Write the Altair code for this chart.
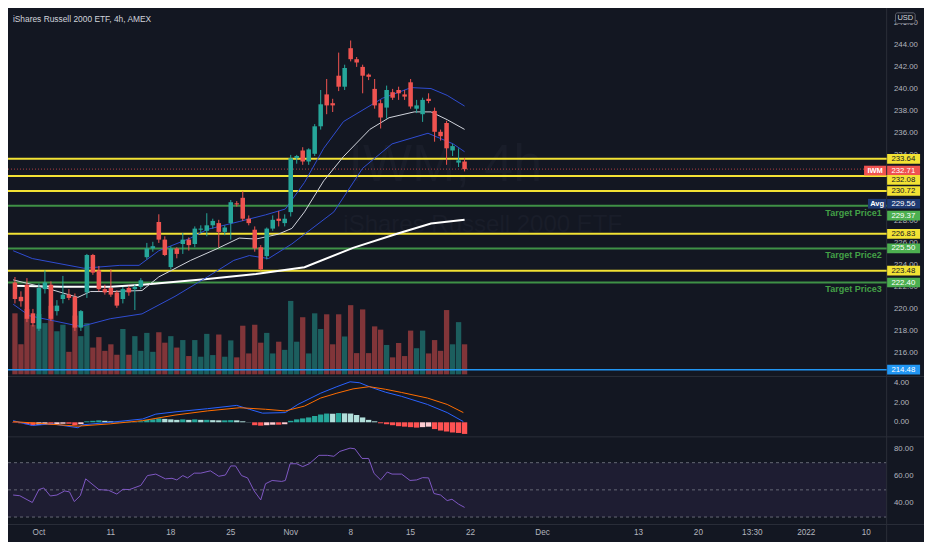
import altair as alt
import pandas as pd

# ---------------- data ----------------
title_text = "iShares Russell 2000 ETF, 4h, AMEX"
watermark_symbol = "IWM, 4h"
watermark_name = "iShares Russell 2000 ETF"
symbol = "IWM"

opens = [222.4, 221.1, 222.2, 219.6, 218.2, 221.8, 222.2, 219.8, 220.9, 221.3,
         221.1, 218.3, 221.5, 224.9, 223.5, 221.8, 221.9, 221.5, 220.9, 221.9,
         221.8, 222.0, 224.7, 225.5, 227.9, 226.3, 223.8, 225.5, 225.9, 226.3,
         225.9, 227.2, 227.1, 227.6, 227.8, 227.0, 227.8, 229.6, 230.1, 228.2,
         227.2, 225.6, 224.8, 227.3, 228.2, 227.8, 228.8, 233.7, 234.4, 233.4,
         234.1, 236.6, 239.5, 238.7, 241.2, 240.2, 243.7, 242.7, 242.0, 241.3,
         240.0, 238.7, 238.3, 239.7, 239.9, 239.5, 240.6, 238.2, 237.7, 239.1,
         238.0, 236.1, 236.9, 234.4, 233.3, 233.4]
highs = [222.9, 221.6, 222.8, 220.0, 222.3, 223.5, 222.5, 220.8, 223.0, 221.8,
         221.4, 219.9, 225.0, 225.0, 223.9, 222.2, 223.6, 221.7, 222.0, 222.1,
         222.2, 222.8, 226.0, 226.1, 228.6, 226.6, 225.7, 225.6, 226.9, 226.5,
         227.5, 227.6, 228.7, 228.2, 228.1, 227.6, 229.9, 229.8, 230.7, 228.5,
         227.5, 225.8, 227.4, 228.5, 228.9, 228.6, 234.0, 234.0, 234.7, 234.6,
         236.8, 239.9, 240.9, 239.1, 243.3, 242.2, 244.4, 242.9, 242.2, 241.4,
         240.9, 239.0, 240.3, 240.0, 240.2, 239.9, 240.9, 239.0, 239.2, 239.6,
         238.3, 236.3, 237.1, 235.0, 234.6, 233.7]
lows = [220.5, 220.2, 218.8, 218.4, 218.0, 221.4, 218.9, 219.4, 220.5, 220.8,
        218.0, 218.0, 221.0, 223.1, 221.6, 221.3, 221.1, 220.1, 220.5, 221.2,
        219.9, 221.8, 224.5, 225.2, 226.0, 224.8, 223.6, 224.6, 225.0, 225.3,
        225.6, 226.9, 226.6, 227.3, 225.6, 226.7, 226.3, 229.3, 228.0, 227.6,
        225.2, 223.5, 224.5, 227.1, 227.5, 227.5, 228.4, 233.2, 233.1, 233.1,
        233.9, 236.3, 237.7, 237.9, 239.8, 239.9, 242.5, 242.0, 239.6, 240.8,
        238.2, 236.4, 237.3, 239.0, 239.0, 239.0, 238.2, 237.8, 237.0, 238.7,
        235.2, 235.3, 233.1, 233.9, 232.9, 232.5]
closes = [220.9, 220.7, 219.1, 218.7, 221.9, 222.4, 219.1, 220.3, 221.3, 221.0,
          218.3, 219.8, 224.9, 223.3, 221.8, 221.5, 221.3, 220.3, 221.8, 221.5,
          222.0, 222.6, 225.5, 225.7, 226.3, 224.9, 225.5, 225.0, 226.3, 225.8,
          227.3, 227.3, 227.6, 228.0, 227.0, 227.4, 229.7, 229.5, 228.2, 227.8,
          225.5, 223.6, 227.3, 228.1, 228.0, 228.2, 233.7, 233.9, 233.4, 234.5,
          236.6, 238.6, 238.5, 238.5, 240.2, 241.9, 242.7, 242.4, 241.2, 241.1,
          238.5, 237.4, 239.9, 239.2, 239.6, 239.3, 238.4, 238.5, 239.0, 238.9,
          236.1, 235.7, 234.6, 234.8, 233.5, 232.7]
volumes = [187, 92, 200, 152, 185, 157, 210, 132, 152, 69,
           180, 117, 157, 82, 114, 72, 92, 60, 139, 60,
           117, 72, 127, 69, 129, 97, 117, 82, 105, 56,
           105, 54, 124, 59, 122, 54, 104, 52, 149, 64,
           152, 97, 127, 64, 100, 75, 225, 100, 175, 64,
           187, 139, 184, 92, 184, 116, 212, 65, 199, 65,
           147, 137, 90, 52, 96, 56, 134, 80, 134, 64,
           105, 72, 197, 92, 160, 92]
macd_hist = [-0.05, -0.1, -0.2, -0.3, -0.25, -0.2, -0.25, -0.2, -0.15, -0.15,
             -0.3, -0.2, 0.1, 0.15, 0.2, 0.15, 0.1, 0.05, 0.05, 0.05,
             0.02, 0.1, 0.25, 0.3, 0.4, 0.35, 0.3, 0.25, 0.3, 0.25,
             0.3, 0.25, 0.25, 0.22, 0.2, 0.2, 0.22, 0.2, 0.1, 0.02,
             -0.3, -0.35, -0.3, -0.25, -0.25, -0.2, 0.15, 0.3, 0.4, 0.5,
             0.65, 0.8, 0.9, 0.88, 0.95, 0.92, 0.9, 0.75, 0.5, 0.25,
             0.1, -0.1, -0.2, -0.3, -0.4, -0.45, -0.5, -0.55, -0.5, -0.45,
             -0.7, -0.85, -0.95, -1.05, -1.1, -1.2]

macd_idx = [-0.3, 2.9, 6.2, 10.5, 11.3, 15.9, 21.3, 23.5, 26.7, 32.1, 37.0, 39.1, 41.3,
            45.1, 47.2, 51.0, 53.7, 55.9, 57.5, 59.1, 61.8, 64.5, 68.8, 72.1, 74.8]
macd_vals = [0.17, -0.33, -0.16, -0.56, -0.26, 0.0, 0.34, 0.84, 1.07, 1.40, 1.74, 1.34, 0.94,
             1.0, 1.84, 3.0, 3.67, 4.17, 4.07, 3.67, 3.1, 2.67, 1.84, 1.0, 0.07]
signal_idx = [-0.3, 5.1, 10.5, 15.9, 21.3, 26.7, 32.1, 37.5, 41.8, 45.1, 48.3, 51.0, 53.7,
              56.4, 59.1, 61.8, 64.5, 68.8, 72.1, 74.8]
signal_vals = [0.07, -0.16, -0.4, -0.16, 0.17, 0.74, 1.17, 1.5, 1.34, 1.17, 1.67, 2.5, 3.0,
               3.44, 3.67, 3.4, 3.07, 2.5, 1.84, 1.0]

rsi_idx = [-0.3, 0.8, 2.9, 4.0, 4.8, 5.9, 7.0, 8.3, 9.1, 9.9, 10.9, 11.8, 14.0, 15.6, 17.0,
           18.0, 19.1, 20.7, 21.0, 22.1, 23.5, 25.1, 26.2, 27.0, 28.0, 28.8, 29.9, 31.0,
           32.6, 34.0, 35.1, 36.0, 36.8, 37.8, 38.8, 39.9, 41.0, 41.8, 42.9, 44.5, 45.1,
           45.9, 47.0, 48.0, 49.1, 50.7, 52.1, 53.2, 54.2, 55.9, 56.7, 57.9, 59.0, 59.9,
           61.0, 62.1, 62.9, 64.5, 65.9, 67.0, 68.0, 69.0, 69.9, 71.0, 72.1, 72.9, 74.0, 75.0]
rsi_vals = [46.2, 45.7, 40.7, 50.2, 51.4, 45.5, 46.2, 49.2, 48.5, 41.4, 45.7, 58.1, 50.2,
            49.7, 46.9, 50.4, 50.2, 52.8, 53.3, 60.5, 61.6, 58.1, 58.5, 57.3, 60.5, 58.8,
            62.3, 62.3, 64.0, 60.0, 60.9, 67.6, 67.6, 60.5, 58.8, 49.2, 42.6, 54.5, 56.9,
            56.2, 56.9, 69.2, 69.2, 67.1, 69.2, 75.4, 75.4, 74.7, 78.3, 80.7, 80.2, 73.1,
            73.1, 62.1, 57.3, 63.1, 61.6, 61.6, 56.9, 57.3, 59.0, 58.8, 47.3, 46.2, 42.1,
            43.1, 39.5, 37.1]

upper_idx = [-0.3, 2.9, 11.5, 17.5, 20.7, 24.0, 29.3, 32.1, 37.4, 41.8, 45.1, 48.3, 51.5,
             54.8, 61.3, 66.1, 69.4, 72.1, 75.0]
upper_vals = [225.29, 224.58, 223.70, 223.96, 223.96, 225.29, 226.44, 227.23, 227.94, 228.55,
              229.08, 231.5, 234.6, 237.03, 239.15, 240.12, 240.03, 239.41, 238.44]
mid_idx = [-0.3, 5.0, 10.5, 12.6, 15.9, 21.2, 24.0, 29.3, 33.7, 37.4, 40.2, 43.9, 46.2,
           48.3, 51.5, 54.8, 59.2, 62.4, 66.6, 69.4, 72.1, 75.0]
mid_vals = [222.64, 221.93, 221.05, 221.58, 221.58, 221.67, 222.91, 224.41, 225.47, 226.44,
            226.35, 226.79, 227.32, 228.82, 231.64, 233.85, 236.32, 237.38, 237.91, 237.91,
            237.20, 236.32]
lower_idx = [-0.3, 2.4, 11.0, 15.9, 21.2, 26.7, 32.1, 36.5, 39.1, 42.3, 46.2, 48.3, 53.2,
             58.0, 62.9, 68.9, 73.1, 75.0]
lower_vals = [220.43, 219.38, 218.40, 219.11, 219.55, 221.14, 222.91, 224.41, 224.85, 224.58,
              225.91, 226.79, 228.82, 232.79, 235.00, 235.97, 235.00, 234.29]
long_idx = [-0.3, 7.8, 15.9, 21.2, 32.1, 40.2, 48.3, 56.4, 64.0, 69.4, 75.0]
long_vals = [222.11, 222.02, 222.02, 222.20, 222.73, 223.17, 223.79, 225.55, 226.88, 227.76,
             228.11]

yellow_levels = [233.64, 232.08, 230.72, 226.83, 223.48]
green_levels = [229.37, 225.50, 222.40]
target_names = ["Target Price1", "Target Price2", "Target Price3"]
last_price = 232.71
avg_price = 229.56
blue_level = 214.48

price_ticks = [246, 244, 242, 240, 238, 236, 234, 228, 226, 224, 222, 220, 218, 216]
macd_ticks = [4, 2, 0]
rsi_ticks = [80, 60, 40]
rsi_levels = [70, 50, 30]
date_pos = [4, 16, 26, 36, 46, 56, 66, 76, 88, 104, 114, 123, 132, 142]
date_labels = ["Oct", "11", "18", "25", "Nov", "8", "15", "22", "Dec", "13", "20", "13:30",
               "2022", "10"]

# ---------------- layout helpers ----------------
W, H = 916, 534
kx, ky = W / 932, H / 550


def X(v):
    return round(v * kx, 2)


def Y(v):
    return round(v * ky, 2)


FONT = "Liberation Sans"
BG = "#131722"
GREEN = "#26a69a"
RED = "#ef5350"
AXIS_TXT = "#b2b5be"

xs = alt.Scale(domain=[-0.324, 144.57], range=[0, X(894)], zero=False, nice=False)
ps = alt.Scale(domain=[213.86, 247.354], range=[Y(379.5), 0], zero=False, nice=False)
vs = alt.Scale(domain=[0, 225], range=[Y(377.3), Y(301.7)], zero=False, nice=False)
ms = alt.Scale(domain=[-1.5, 4.67], range=[Y(441.7), Y(380)], zero=False, nice=False)
rs = alt.Scale(domain=[24.5, 89.0], range=[Y(532), Y(441.7)], zero=False, nice=False)

# ---------------- tables ----------------
n = len(opens)
cdf = pd.DataFrame({"idx": list(range(n)), "open": opens, "high": highs, "low": lows,
                    "close": closes, "vol": volumes, "hist": macd_hist})
cdf["color"] = [GREEN if c >= o else RED for o, c in zip(opens, closes)]
cdf["base"] = 0.0
hcol = []
for i, h in enumerate(macd_hist):
    prev = macd_hist[i - 1] if i > 0 else 0
    if h >= 0:
        hcol.append("#26a69a" if h >= prev else "#b2dfdb")
    else:
        hcol.append("#ff5252" if h <= prev else "#ffcdd2")
cdf["hcolor"] = hcol


def line_df(ix, vals):
    return pd.DataFrame({"idx": ix, "v": vals})


def xenc(field="idx"):
    return alt.X(f"{field}:Q", scale=xs, axis=None)


def hrule(df, scale, color, width, dash=None, opacity=1.0):
    kw = dict(color=color, strokeWidth=width, opacity=opacity)
    if dash:
        kw["strokeDash"] = dash
    return alt.Chart(df).mark_rule(**kw).encode(
        x=alt.value(0), x2=alt.value(X(894)),
        y=alt.Y("v:Q", scale=scale, axis=None))


def sep_h(yref, x1=0, x2=W):
    return alt.Chart(pd.DataFrame({"a": [0]})).mark_rule(color="#2a2e39", strokeWidth=1).encode(
        x=alt.value(x1), x2=alt.value(x2), y=alt.value(Y(yref)))


layers = []

# watermark
wm = pd.DataFrame({"t": [watermark_symbol]})
layers.append(alt.Chart(wm).mark_text(font=FONT, fontSize=52, color="#191d29", align="center",
                                      baseline="middle").encode(
    x=alt.value(X(445)), y=alt.value(Y(162)), text="t:N"))
wm2 = pd.DataFrame({"t": [watermark_name]})
layers.append(alt.Chart(wm2).mark_text(font=FONT, fontSize=24, color="#191d29", align="center",
                                       baseline="middle").encode(
    x=alt.value(X(483)), y=alt.value(Y(223)), text="t:N"))

# RSI band
band = pd.DataFrame({"hi": [rsi_levels[0]], "lo": [rsi_levels[-1]]})
layers.append(alt.Chart(band).mark_rect(color="#7e57c2", opacity=0.1).encode(
    x=alt.value(0), x2=alt.value(X(894)),
    y=alt.Y("hi:Q", scale=rs, axis=None), y2="lo:Q"))
layers.append(hrule(pd.DataFrame({"v": rsi_levels}), rs, "#787b86", 1, dash=[3, 3], opacity=0.8))

# separators
layers.append(sep_h(379.5))
layers.append(sep_h(441.7))
layers.append(sep_h(532))
layers.append(alt.Chart(pd.DataFrame({"a": [0]})).mark_rule(color="#2a2e39", strokeWidth=1).encode(
    x=alt.value(X(894)), y=alt.value(0), y2=alt.value(H)))

# volume
layers.append(alt.Chart(cdf).mark_bar(size=5.4 * kx, opacity=0.5).encode(
    x=xenc(), y=alt.Y("vol:Q", scale=vs, axis=None), y2="base:Q",
    color=alt.Color("color:N", scale=None)))

# horizontal levels
layers.append(hrule(pd.DataFrame({"v": [blue_level]}), ps, "#2196f3", 1.5))
layers.append(hrule(pd.DataFrame({"v": green_levels}), ps, "#3f9146", 2))
layers.append(hrule(pd.DataFrame({"v": yellow_levels}), ps, "#f2e234", 2))
layers.append(hrule(pd.DataFrame({"v": [last_price]}), ps, RED, 1, dash=[1, 2], opacity=0.7))

# moving averages / bands
for ix, vals, col, w in [(long_idx, long_vals, "#ffffff", 2),
                         (mid_idx, mid_vals, "#d1d4dc", 1),
                         (upper_idx, upper_vals, "#2f4cd1", 1),
                         (lower_idx, lower_vals, "#2f4cd1", 1)]:
    layers.append(alt.Chart(line_df(ix, vals)).mark_line(color=col, strokeWidth=w).encode(
        x=xenc(), y=alt.Y("v:Q", scale=ps, axis=None)))

# candles
layers.append(alt.Chart(cdf).mark_rule(strokeWidth=1).encode(
    x=xenc(), y=alt.Y("low:Q", scale=ps, axis=None), y2="high:Q",
    color=alt.Color("color:N", scale=None)))
layers.append(alt.Chart(cdf).mark_bar(size=4.6 * kx, minBandSize=1).encode(
    x=xenc(), y=alt.Y("open:Q", scale=ps, axis=None), y2="close:Q",
    color=alt.Color("color:N", scale=None)))

# MACD
layers.append(alt.Chart(cdf).mark_bar(size=5.4 * kx).encode(
    x=xenc(), y=alt.Y("hist:Q", scale=ms, axis=None), y2="base:Q",
    color=alt.Color("hcolor:N", scale=None)))
layers.append(alt.Chart(line_df(macd_idx, macd_vals)).mark_line(color="#2962ff", strokeWidth=1).encode(
    x=xenc(), y=alt.Y("v:Q", scale=ms, axis=None)))
layers.append(alt.Chart(line_df(signal_idx, signal_vals)).mark_line(color="#ff6d00", strokeWidth=1).encode(
    x=xenc(), y=alt.Y("v:Q", scale=ms, axis=None)))

# RSI
layers.append(alt.Chart(line_df(rsi_idx, rsi_vals)).mark_line(color="#7e57c2", strokeWidth=1).encode(
    x=xenc(), y=alt.Y("v:Q", scale=rs, axis=None)))

# target price texts
tdf = pd.DataFrame({"v": green_levels, "t": target_names})
layers.append(alt.Chart(tdf).mark_text(font=FONT, fontSize=9, fontWeight="bold", color="#43a047",
                                       align="right", baseline="middle", dy=Y(7)).encode(
    x=alt.value(X(889)), y=alt.Y("v:Q", scale=ps, axis=None), text="t:N"))

# axis tick labels


def tick_layer(vals, scale):
    df = pd.DataFrame({"v": vals, "t": [f"{v:.2f}" for v in vals]})
    return alt.Chart(df).mark_text(font=FONT, fontSize=7.8, color=AXIS_TXT, align="left",
                                   baseline="middle").encode(
        x=alt.value(X(901.5)), y=alt.Y("v:Q", scale=scale, axis=None), text="t:N")


layers.append(tick_layer(price_ticks, ps))
layers.append(tick_layer(macd_ticks, ms))
layers.append(tick_layer(rsi_ticks, rs))

# price label boxes
box_rows = []
for v in yellow_levels:
    box_rows.append((v, "#f2e234", "#131722"))
box_rows.append((last_price, "#ef5350", "#ffffff"))
box_rows.append((avg_price, "#1e3a72", "#ffffff"))
for v in green_levels:
    box_rows.append((v, "#4caf50", "#ffffff"))
box_rows.append((blue_level, "#2196f3", "#ffffff"))
bdf = pd.DataFrame(box_rows, columns=["v", "fill", "tc"])
bdf["t"] = [f"{v:.2f}" for v in bdf["v"]]
shift_px = {232.08: 4, 229.37: 10, 232.71: 1.5}
bdf["shift"] = [shift_px.get(v, 0) for v in bdf["v"]]

half = Y(5)
for s in sorted(bdf["shift"].unique()):
    sub = bdf[bdf["shift"] == s]
    sp = Y(s)
    layers.append(alt.Chart(sub).mark_rect(yOffset=-half + sp, y2Offset=half + sp).encode(
        x=alt.value(X(894.5)), x2=alt.value(X(928)),
        y=alt.Y("v:Q", scale=ps, axis=None), y2="v:Q",
        color=alt.Color("fill:N", scale=None)))
    layers.append(alt.Chart(sub).mark_text(font=FONT, fontSize=7.8, align="center",
                                           baseline="middle", dy=sp).encode(
        x=alt.value(X(911)), y=alt.Y("v:Q", scale=ps, axis=None), text="t:N",
        color=alt.Color("tc:N", scale=None)))

# symbol and avg tags
tags = pd.DataFrame({"v": [last_price, avg_price], "t": [symbol, "Avg"],
                     "fill": ["#ef5350", "#1e3a72"], "x1": [871, 875]})
for i in range(len(tags)):
    row = tags.iloc[[i]]
    sp = Y(1.5) if i == 0 else 0
    x1 = X(float(row["x1"].iloc[0]))
    layers.append(alt.Chart(row).mark_rect(yOffset=-half + sp, y2Offset=half + sp).encode(
        x=alt.value(x1), x2=alt.value(X(893.5)),
        y=alt.Y("v:Q", scale=ps, axis=None), y2="v:Q",
        color=alt.Color("fill:N", scale=None)))
    layers.append(alt.Chart(row).mark_text(font=FONT, fontSize=7.5, fontWeight="bold",
                                           color="#ffffff", align="center", baseline="middle",
                                           dy=sp).encode(
        x=alt.value(round((x1 + X(893.5)) / 2, 2)), y=alt.Y("v:Q", scale=ps, axis=None),
        text="t:N"))

# USD box
layers.append(alt.Chart(pd.DataFrame({"a": [0]})).mark_rect(
    fill=BG, stroke="#5d606b", strokeWidth=1, cornerRadius=2).encode(
    x=alt.value(X(903)), x2=alt.value(X(923)), y=alt.value(Y(5)), y2=alt.value(Y(16))))
layers.append(alt.Chart(pd.DataFrame({"t": ["USD"]})).mark_text(
    font=FONT, fontSize=7.5, color="#d1d4dc", align="center", baseline="middle").encode(
    x=alt.value(X(913)), y=alt.value(Y(10.5)), text="t:N"))

# title
layers.append(alt.Chart(pd.DataFrame({"t": [title_text]})).mark_text(
    font=FONT, fontSize=8.4, color="#d1d4dc", align="left", baseline="middle").encode(
    x=alt.value(X(5)), y=alt.value(Y(11)), text="t:N"))

# date labels
ddf = pd.DataFrame({"pos": date_pos, "t": date_labels})
layers.append(alt.Chart(ddf).mark_text(font=FONT, fontSize=8.2, color=AXIS_TXT, align="center",
                                       baseline="middle").encode(
    x=xenc("pos"), y=alt.value(Y(541)), text="t:N"))

chart = alt.layer(*layers).properties(
    width=W, height=H, padding=0, background=BG,
    autosize=alt.AutoSizeParams(type="none"),
).resolve_scale(y="independent").configure_view(stroke=None)

chart.save("out.html", embed_options={"renderer": "svg", "actions": False})
